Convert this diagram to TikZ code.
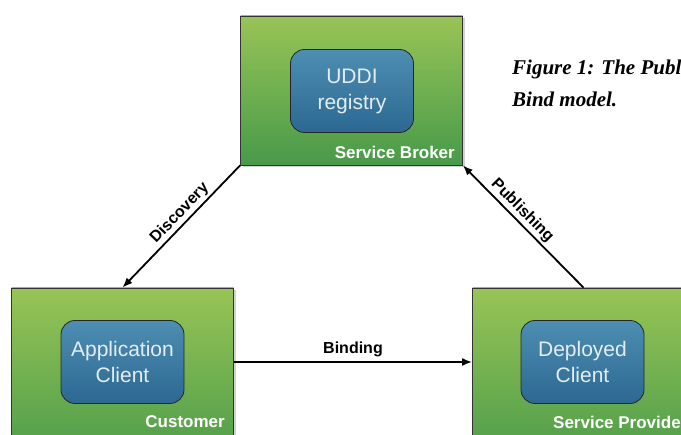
\documentclass[tikz,border=0pt]{standalone}
\usepackage{fontspec}
\setmainfont{Liberation Sans}
\newfontfamily\capfont{Liberation Serif}
\usetikzlibrary{arrows.meta,positioning,shadows}
\definecolor{boxtop}{RGB}{152,196,86}
\definecolor{boxbot}{RGB}{72,154,74}
\definecolor{regtop}{RGB}{78,142,178}
\definecolor{regbot}{RGB}{44,104,146}
\definecolor{regtext}{RGB}{228,238,242}

\begin{document}
\begin{tikzpicture}[x=1pt,y=-1pt]
                \tikzstyle{role} = [shape=rectangle, draw=black!80, line width=0.8pt, top color=boxtop, bottom color=boxbot, minimum width=222pt, drop shadow={opacity=0.35, shadow xshift=2pt, shadow yshift=-2pt}];
                \tikzstyle{client} = [shape=rectangle, rounded corners=14pt, draw=black!85, line width=0.8pt, top color=regtop, bottom color=regbot, minimum width=123pt, minimum height=83pt, align=center, text=regtext, font=\fontsize{21}{26}\selectfont];
                \tikzstyle{rolename} = [inner sep=0pt, text=white, font=\fontsize{17}{20}\selectfont\bfseries];
                \tikzstyle{action} = [inner sep=2pt, font=\fontsize{16}{19}\selectfont\bfseries];
                \tikzstyle{caption} = [anchor=base west, inner sep=0pt, font=\capfont\fontsize{21}{25}\selectfont\bfseries\itshape];
                \tikzstyle{link} = [-{Latex[length=10pt,width=8pt]}, line width=1.8pt];

                \clip (0,0) rectangle (681,435);
                \fill[white] (0,0) rectangle (681,435);

                \node[role, minimum height=149pt](broker) at (351.5,90.5) {};
                \node[role, minimum height=182pt](customer) at (122.5,379) {};
                \node[role, minimum height=182pt](provider) at (583.5,379) {};

                \node[client](registry) at (352,91) {UDDI\\registry};
                \node[client](appclient) at (122.5,362) {Application\\Client};
                \node[client](depclient) at (582.5,362) {Deployed\\Client};

                \node[rolename, anchor=east](brokername) at (455,152) {Service Broker};
                \node[rolename, anchor=east](customername) at (225,422) {Customer};
                \node[rolename, anchor=west](providername) at (553,422) {Service Provider};

                \node[caption](figline1) at (512,75) {Figure 1: The Publish-Find-};
                \node[caption](figline2) at (512,107) {Bind model.};

                \draw[link] (broker.south west) -- node[action, pos=0.45, sloped, above]{Discovery} (customer.north);
                \draw[link] (provider.north) -- node[action, pos=0.57, sloped, above]{Publishing} (broker.south east);
                \draw[link] (customer.east |- appclient) -- node[action, above=2pt]{Binding} (provider.west |- depclient);
            \end{tikzpicture}
\end{document}
